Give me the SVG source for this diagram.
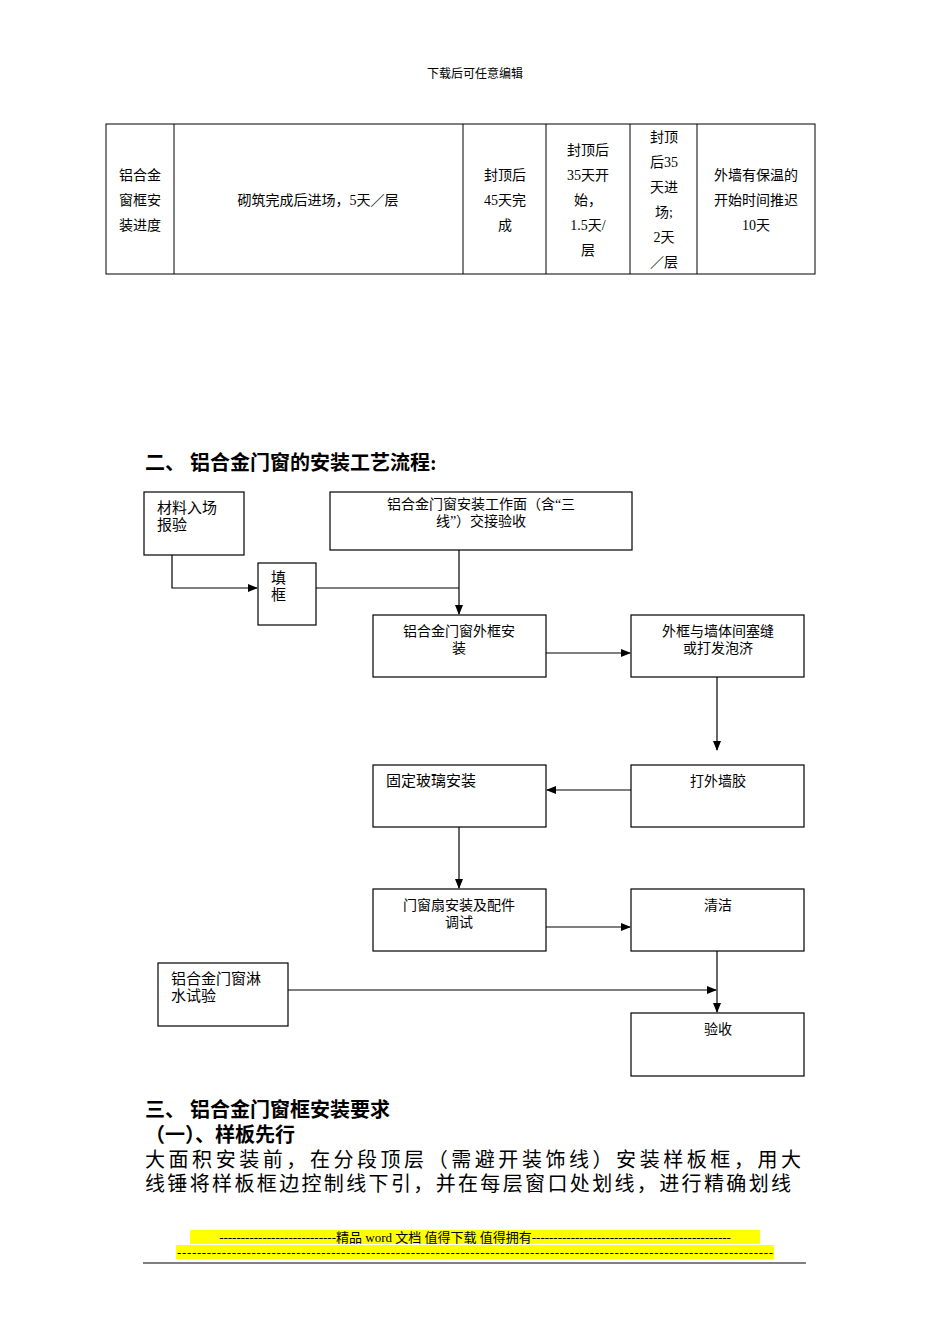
<svg xmlns="http://www.w3.org/2000/svg" width="950" height="1344" viewBox="0 0 950 1344">
<style>
text{font-family:"Liberation Serif","Noto Sans CJK SC",serif;fill:#000}
.t{font-size:14px;text-anchor:middle}
.b{font-size:15px}
.h{font-size:20px;font-weight:bold}
rect.n{fill:#fff;stroke:#000;stroke-width:1.2}
.c line,.c polyline{stroke:#000;stroke-width:1.2;fill:none}
</style>
<defs><marker id="a" markerWidth="10" markerHeight="8" refX="9" refY="4" orient="auto" markerUnits="userSpaceOnUse"><path d="M0,0L10,4L0,8z" fill="#000"/></marker></defs>
<rect width="950" height="1344" fill="#fff"/>
<text x="475" y="78" font-size="12" text-anchor="middle">下载后可任意编辑</text>
<g id="table" fill="none" stroke="#000" stroke-width="1">
<rect x="106" y="124" width="709" height="150"/>
<line x1="174" y1="124" x2="174" y2="274"/><line x1="463" y1="124" x2="463" y2="274"/><line x1="546" y1="124" x2="546" y2="274"/><line x1="630" y1="124" x2="630" y2="274"/><line x1="697" y1="124" x2="697" y2="274"/>
</g>
<g class="t">
<text x="140" y="180">铝合金</text><text x="140" y="205">窗框安</text><text x="140" y="230">装进度</text>
<text x="318" y="205">砌筑完成后进场，5天／层</text>
<text x="505" y="180">封顶后</text><text x="505" y="205">45天完</text><text x="505" y="230">成</text>
<text x="588" y="155">封顶后</text><text x="588" y="180">35天开</text><text x="588" y="205">始，</text><text x="588" y="230">1.5天/</text><text x="588" y="255">层</text>
<text x="664" y="142">封顶</text><text x="664" y="167">后35</text><text x="664" y="192">天进</text><text x="664" y="217">场;</text><text x="664" y="242">2天</text><text x="664" y="267">／层</text>
<text x="756" y="180">外墙有保温的</text><text x="756" y="205">开始时间推迟</text><text x="756" y="230">10天</text>
</g>
<text class="h" x="145" y="470">二、  铝合金门窗的安装工艺流程:</text>
<g class="c">
<polyline points="172,555 172,588 257,588" marker-end="url(#a)"/>
<line x1="316" y1="588" x2="459" y2="588"/>
<line x1="459" y1="550" x2="459" y2="614" marker-end="url(#a)"/>
<line x1="546" y1="653" x2="630" y2="653" marker-end="url(#a)"/>
<line x1="717" y1="677" x2="717" y2="750" marker-end="url(#a)"/>
<line x1="631" y1="790" x2="547" y2="790" marker-end="url(#a)"/>
<line x1="459" y1="827" x2="459" y2="888" marker-end="url(#a)"/>
<line x1="546" y1="927" x2="630" y2="927" marker-end="url(#a)"/>
<line x1="717" y1="951" x2="717" y2="1012" marker-end="url(#a)"/>
<line x1="288" y1="990" x2="716" y2="990" marker-end="url(#a)"/>
</g>
<g id="n1"><rect class="n" x="144" y="492" width="100" height="63"/><text class="b" x="157" y="513">材料入场</text><text class="b" x="157" y="530">报验</text></g>
<g id="n2"><rect class="n" x="330" y="492" width="302" height="58"/><text class="t" x="481" y="509" font-size="15">铝合金门窗安装工作面（含“三</text><text class="t" x="481" y="526" font-size="15">线”）交接验收</text></g>
<g id="n3"><rect class="n" x="258" y="563" width="58" height="62"/><text class="b" x="271" y="583">填</text><text class="b" x="271" y="600">框</text></g>
<g id="n4"><rect class="n" x="373" y="615" width="173" height="62"/><text class="t" x="459" y="636" font-size="15">铝合金门窗外框安</text><text class="t" x="459" y="653" font-size="15">装</text></g>
<g id="n5"><rect class="n" x="631" y="615" width="173" height="62"/><text class="t" x="718" y="636" font-size="15">外框与墙体间塞缝</text><text class="t" x="718" y="653" font-size="15">或打发泡济</text></g>
<g id="n6"><rect class="n" x="631" y="765" width="173" height="62"/><text class="t" x="718" y="786" font-size="15">打外墙胶</text></g>
<g id="n7"><rect class="n" x="373" y="765" width="173" height="62"/><text class="b" x="386" y="786">固定玻璃安装</text></g>
<g id="n8"><rect class="n" x="373" y="889" width="173" height="62"/><text class="t" x="459" y="910" font-size="15">门窗扇安装及配件</text><text class="t" x="459" y="927" font-size="15">调试</text></g>
<g id="n9"><rect class="n" x="631" y="889" width="173" height="62"/><text class="t" x="718" y="910" font-size="15">清洁</text></g>
<g id="n10"><rect class="n" x="158" y="963" width="130" height="63"/><text class="b" x="171" y="984">铝合金门窗淋</text><text class="b" x="171" y="1001">水试验</text></g>
<g id="n11"><rect class="n" x="631" y="1013" width="173" height="63"/><text class="t" x="718" y="1034" font-size="15">验收</text></g>
<text class="h" x="145" y="1117">三、  铝合金门窗框安装要求</text>
<text class="h" x="145" y="1142">（一）、样板先行</text>
<text x="145" y="1167" font-size="20" textLength="656" lengthAdjust="spacing">    大面积安装前，在分段顶层（需避开装饰线）安装样板框，用大</text>
<text x="145" y="1191" font-size="20" textLength="646" lengthAdjust="spacing">线锤将样板框边控制线下引，并在每层窗口处划线，进行精确划线</text>
<rect x="190" y="1230" width="570" height="14" fill="#ff0"/>
<rect x="176" y="1245" width="598" height="14" fill="#ff0"/>
<text x="475" y="1242" font-size="13" text-anchor="middle">---------------------------精品 word 文档 值得下载 值得拥有----------------------------------------------</text>
<text x="475" y="1257" font-size="13" text-anchor="middle" textLength="596" lengthAdjust="spacing">------------------------------------------------------------------------------------------------------------------------</text>
<line x1="143" y1="1263" x2="806" y2="1263" stroke="#000" stroke-width="1.2"/>
</svg>
